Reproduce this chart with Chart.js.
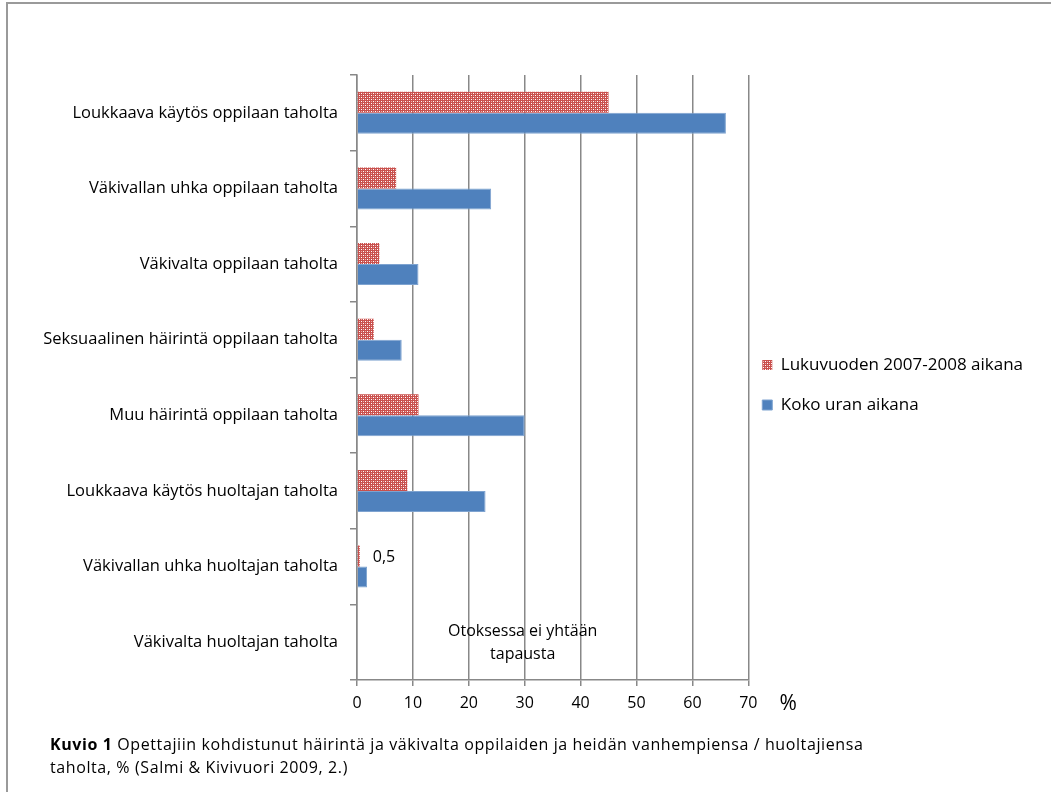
<!DOCTYPE html>
<html>
<head>
<meta charset="utf-8">
<script src="https://cdn.jsdelivr.net/npm/chart.js@4.4.1/dist/chart.umd.min.js"></script>
<style>
  html, body { margin: 0; padding: 0; background: #fff; }
  #wrap { position: relative; width: 1051px; height: 792px; overflow: hidden; }
  #frame { position: absolute; left: 6px; top: 2px; width: 1100px; height: 900px;
           border-top: 2px solid #9a9a9a; border-left: 2px solid #9a9a9a; }
  canvas { position: absolute; left: 0; top: 0; }
  #caption { position: absolute; left: 50px; top: 733px; font-family: "Open Sans", sans-serif;
             font-size: 16px; line-height: 23px; color: #000; letter-spacing: 0.6px; white-space: nowrap; }
</style>
</head>
<body>
<div id="wrap">
  <div id="frame"></div>
  <canvas id="c" width="1051" height="792"></canvas>
  <div id="caption"><b>Kuvio 1</b> Opettajiin kohdistunut häirintä ja väkivalta oppilaiden ja heidän vanhempiensa / huoltajiensa<br>taholta, % (Salmi &amp; Kivivuori 2009, 2.)</div>
</div>
<script>
const categories = [
  "Loukkaava käytös oppilaan taholta",
  "Väkivallan uhka oppilaan taholta",
  "Väkivalta oppilaan taholta",
  "Seksuaalinen häirintä oppilaan taholta",
  "Muu häirintä oppilaan taholta",
  "Loukkaava käytös huoltajan taholta",
  "Väkivallan uhka huoltajan taholta",
  "Väkivalta huoltajan taholta"
];
const seriesNames = ["Lukuvuoden 2007-2008 aikana", "Koko uran aikana"];
const lukuvuosi = [45, 7, 4, 3, 11, 9, 0.5, 0];
const kokoUra = [66, 24, 11, 8, 30, 23, 1.8, 0];
const xTicks = [0, 10, 20, 30, 40, 50, 60, 70];
const valueLabel = "0,5";
const noDataNote = ["Otoksessa ei yhtään", "tapausta"];
const unitLabel = "%";

const FONT = '"Open Sans", sans-serif';

function makePattern() {
  const p = document.createElement('canvas');
  p.width = 4; p.height = 4;
  const g = p.getContext('2d');
  g.fillStyle = '#C9504D';
  g.fillRect(0, 0, 4, 4);
  g.fillStyle = '#ffffff';
  g.fillRect(1, 1, 1, 1);
  g.fillRect(3, 3, 1, 1);
  g.fillStyle = '#eab0ae';
  g.fillRect(3, 1, 1, 1);
  g.fillRect(1, 3, 1, 1);
  return g.createPattern(p, 'repeat');
}
const ctxMain = document.getElementById('c').getContext('2d');
const redPattern = makePattern();

const notesPlugin = {
  id: 'notes',
  afterLayout(chart) {
    // nudge the legend column a little closer to the plot
    const lg = chart.legend;
    if (lg) { lg.left -= 9; lg.right -= 9; }
  },
  afterDatasetsDraw(chart) {
    const { ctx, scales } = chart;
    const x = scales.x, y = scales.y;
    const meta0 = chart.getDatasetMeta(0);
    ctx.save();
    ctx.fillStyle = '#000';
    ctx.font = '16px ' + FONT;
    const bar = meta0.data[6];
    ctx.textAlign = 'left';
    ctx.textBaseline = 'middle';
    ctx.fillText(valueLabel, x.getPixelForValue(lukuvuosi[6]) + 13, bar.y + 1);
    const cy = y.getPixelForValue(7);
    ctx.textAlign = 'center';
    ctx.fillText(noDataNote[0], x.getPixelForValue(30) - 2, cy - 11);
    ctx.fillText(noDataNote[1], x.getPixelForValue(30) - 2, cy + 12);
    ctx.font = '21px ' + FONT;
    ctx.fillText(unitLabel, x.right + 40, x.top + 24);
    ctx.restore();
  }
};

new Chart(ctxMain, {
  type: 'bar',
  data: {
    labels: categories,
    datasets: [
      { label: seriesNames[0], data: lukuvuosi, backgroundColor: redPattern, borderWidth: 0,
        categoryPercentage: 0.556, barPercentage: 1 },
      { label: seriesNames[1], data: kokoUra, backgroundColor: '#4F81BD', borderColor: '#7EA3D0', borderWidth: 1,
        categoryPercentage: 0.556, barPercentage: 1 }
    ]
  },
  options: {
    indexAxis: 'y',
    responsive: false,
    animation: false,
    devicePixelRatio: 1,
    layout: { padding: { top: 75, bottom: 72, left: 0, right: 9 } },
    plugins: {
      tooltip: { enabled: false },
      legend: {
        position: 'right',
        fullSize: false,
        align: 'center',
        maxWidth: 302,
        title: { display: true, text: ' ', font: { size: 10, lineHeight: 1.5 }, padding: 0 },
        labels: {
          boxWidth: 10, boxHeight: 10, padding: 23, color: '#000',
          font: { family: FONT, size: 17 }
        }
      }
    },
    scales: {
      x: {
        min: 0, max: 70,
        afterBuildTicks(scale) { scale.ticks = xTicks.map(v => ({ value: v })); },
        afterFit(scale) { scale.height = 40; },
        grid: { color: '#888888', lineWidth: 1.5, tickLength: 6, drawTicks: true },
        border: { color: '#888888', width: 1.5 },
        ticks: { color: '#000', padding: 8, font: { family: FONT, size: 16 } }
      },
      y: {
        afterFit(scale) { scale.width = 357; },
        grid: { offset: true, drawOnChartArea: false, color: '#888888', lineWidth: 1.5, tickLength: 7 },
        border: { color: '#888888', width: 1.5 },
        ticks: { color: '#000', padding: 12, font: { family: FONT, size: 16.5 } }
      }
    }
  },
  plugins: [notesPlugin]
});
</script>
</body>
</html>
